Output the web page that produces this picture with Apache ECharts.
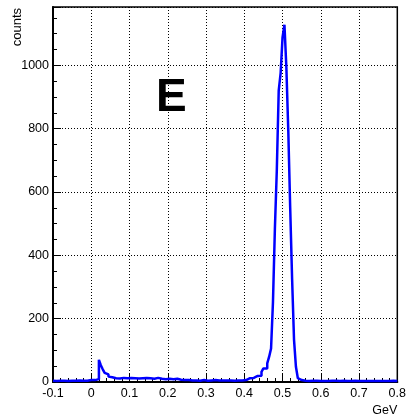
<!DOCTYPE html>
<html>
<head>
<meta charset="utf-8">
<script src="https://cdn.jsdelivr.net/npm/echarts@6/dist/echarts.min.js"></script>
<style>
html,body{margin:0;padding:0;background:#fff;}
#chart{width:409px;height:417px;}
</style>
</head>
<body>
<div id="chart"></div>
<script>
// Histogram binning (x axis in GeV)
const binStart = -0.1;
const binWidth = 0.005;
const xTicks = [-0.1, 0, 0.1, 0.2, 0.3, 0.4, 0.5, 0.6, 0.7, 0.8];
const yTicks = [0, 200, 400, 600, 800, 1000];
const yMax = 1184;

// counts per bin (180 bins from -0.1 to 0.8)
const countsLow = [4,3,5,4,3,4,5,3,4,4,5,4,3,5,4,4,5,4,5,6,5,6,8,
  9,70,53,40,29,24,17];
const countsMid = [15,13,12,14,11,12,13,10,12,11,
  13,10,12,14,11,10,12,15,13,11,
  12,15,10,11,13,9,10,12,9,8,
  10,8,9,7,10,8,7,8,6,7,
  6,7,5,6,5,6,4,5,6,5,
  4,5,5,4,6,4,5,4,5,4,
  5,4,5,6,4,5,5,6,5,6,
  6,7,12,12,13,12,19,19,20,32];
const countsPeak = [43,43,59,80,106,253,484,668,920,975,1088,1128,
  993,794,550,325,134,48,12,6];
const countsHigh = [5,4,4,3,5,4,3,4,4,3,
  4,3,4,3,3,4,3,4,3,3,
  3,4,3,3,4,3,3,4,3,3,
  3,3,4,3,3,3,4,3,3,3,
  3,3,4,3,3,3,3,4,3,3];

const counts = countsLow.concat(countsMid, countsPeak, countsHigh);
const histData = counts.map((c, k) => [binStart + k * binWidth, c]);
histData.push([binStart + counts.length * binWidth, counts[counts.length - 1]]);

const FONT = 'Liberation Sans';
const chart = echarts.init(document.getElementById('chart'), null, {renderer: 'canvas'});
chart.setOption({
  animation: false,
  backgroundColor: '#fff',
  grid: {left: 53, right: 8, top: 7, bottom: 35, show: true, borderColor: '#000', borderWidth: 1.5},
  xAxis: {
    type: 'value', min: xTicks[0], max: xTicks[xTicks.length - 1], interval: 0.1,
    axisLine: {show: true, onZero: false, lineStyle: {color: '#000', width: 2}},
    axisTick: {show: true, inside: true, length: 8, lineStyle: {color: '#000', width: 1}},
    minorTick: {show: true, splitNumber: 5, length: 4, lineStyle: {color: '#000', width: 1}},
    splitLine: {show: true, lineStyle: {color: '#000', width: 1, type: [1, 2]}},
    axisLabel: {color: '#000', fontFamily: FONT, fontSize: 12.5, margin: 5,
      formatter: v => String(Number(v.toFixed(1)))},
    name: 'GeV', nameLocation: 'end', nameGap: 0,
    nameTextStyle: {color: '#000', fontFamily: FONT, fontSize: 12.5, align: 'right', verticalAlign: 'top', padding: [22, 0, 0, 0]}
  },
  yAxis: {
    type: 'value', min: 0, max: yMax, interval: 200,
    axisLine: {show: true, onZero: false, lineStyle: {color: '#000', width: 2}},
    axisTick: {show: true, inside: true, length: 8, lineStyle: {color: '#000', width: 1}},
    minorTick: {show: true, splitNumber: 4, length: 4, lineStyle: {color: '#000', width: 1}},
    splitLine: {show: true, lineStyle: {color: '#000', width: 1, type: [1, 2]}},
    axisLabel: {color: '#000', fontFamily: FONT, fontSize: 12.5, margin: 4, showMaxLabel: false,
      formatter: v => (yTicks.indexOf(v) >= 0 ? String(v) : '')}
  },
  graphic: [
    {type: 'text', x: 17.5, y: 8, rotation: Math.PI / 2, z: 10,
      style: {text: 'counts', fontFamily: FONT, fontSize: 13, fill: '#000', align: 'right', verticalAlign: 'middle'}},
    {type: 'text', x: 156, y: 98.5, z: 10,
      style: {text: 'E', fontFamily: FONT, fontSize: 46, fontWeight: 'bold', fill: '#000', align: 'left', verticalAlign: 'middle'}}
  ],
  series: [{
    type: 'line', step: 'end', data: histData, showSymbol: false, symbol: 'none',
    lineStyle: {color: '#0000ff', width: 2.5}, z: 5
  }]
});
</script>
</body>
</html>
